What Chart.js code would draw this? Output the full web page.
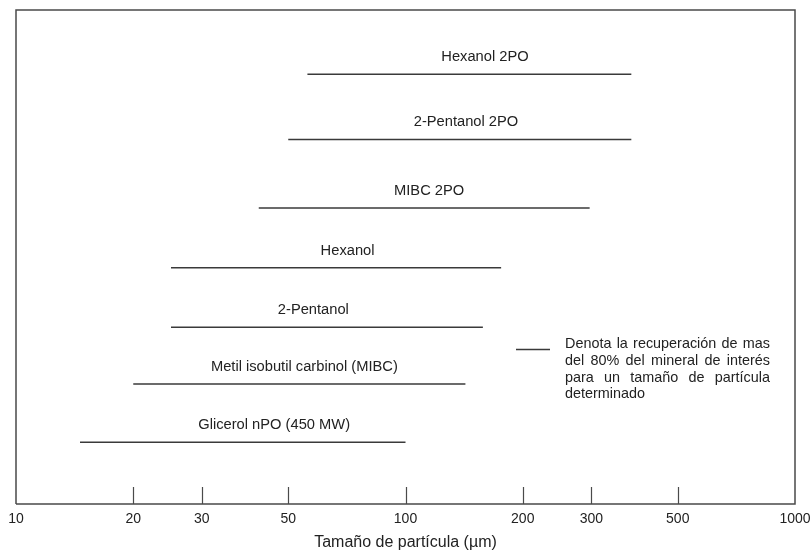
<!DOCTYPE html>
<html>
<head>
<meta charset="utf-8">
<script src="https://cdn.jsdelivr.net/npm/chart.js@4.4.0/dist/chart.umd.min.js"></script>
<style>
html, body { margin: 0; padding: 0; background: #fff; }
</style>
</head>
<body>
<canvas id="rangeChart" width="811" height="551"></canvas>
<script>
// reagent names and the particle size range (µm) each one recovers >80%
var labels = ['Hexanol 2PO', '2-Pentanol 2PO', 'MIBC 2PO', 'Hexanol', '2-Pentanol',
	'Metil isobutil carbinol (MIBC)', 'Glicerol nPO (450 MW)'];
var sizeMin = [56, 50, 42, 25, 25, 20, 14.6];
var sizeMax = [380, 380, 297, 176, 158, 142.5, 100];
// vertical row of each bar (hidden y axis, 0..10)
var levels = [8.70, 7.38, 5.99, 4.78, 3.58, 2.43, 1.25];
// where each name sits along the x axis (µm)
var labelAt = [160, 143, 115, 71, 58, 55, 46];
var tickValues = [10, 20, 30, 50, 100, 200, 300, 500, 1000];
var xTitle = 'Tamaño de partícula (µm)';
var noteLines = ['Denota la recuperación de mas', 'del 80% del mineral de interés',
	'para un tamaño de partícula', 'determinado'];

var FONT = '"Liberation Sans", Arial, Helvetica, sans-serif';

var datasets = labels.map(function(name, i) {
	return {
		label : name,
		data : [ { x : sizeMin[i], y : levels[i] }, { x : sizeMax[i], y : levels[i] } ],
		borderColor : '#3a3a3a',
		borderWidth : 1.5,
		pointRadius : 0,
		fill : false
	};
});

var decorPlugin = {
	id : 'decor',
	afterDraw : function(chart) {
		var ctx = chart.ctx;
		var area = chart.chartArea;
		var xs = chart.scales.x;
		var ys = chart.scales.y;
		ctx.save();

		// frame
		ctx.strokeStyle = '#4a4a4a';
		ctx.lineWidth = 1.5;
		ctx.beginPath();
		ctx.moveTo(area.left, area.bottom);
		ctx.lineTo(area.left, area.top);
		ctx.lineTo(area.right, area.top);
		ctx.lineTo(area.right, area.bottom);
		ctx.lineTo(area.left, area.bottom);
		ctx.stroke();

		// inward tick marks
		ctx.lineWidth = 1.2;
		ctx.beginPath();
		tickValues.forEach(function(v) {
			if (v == 10 || v == 1000) return;
			var px = Math.round(xs.getPixelForValue(v)) + 0.5;
			ctx.moveTo(px, area.bottom);
			ctx.lineTo(px, area.bottom - 17);
		});
		ctx.stroke();

		// names above the bars
		ctx.fillStyle = '#222';
		ctx.font = '14.7px ' + FONT;
		ctx.textAlign = 'center';
		ctx.textBaseline = 'middle';
		labels.forEach(function(name, i) {
			ctx.fillText(name, xs.getPixelForValue(labelAt[i]), ys.getPixelForValue(levels[i]) - 17);
		});

		// note / key
		ctx.strokeStyle = '#3a3a3a';
		ctx.lineWidth = 1.5;
		ctx.beginPath();
		ctx.moveTo(516, 349.5);
		ctx.lineTo(550, 349.5);
		ctx.stroke();

		ctx.font = '14.4px ' + FONT;
		ctx.textAlign = 'left';
		var left = 565, width = 205, lh = 16.8, top = 344;
		noteLines.forEach(function(line, i) {
			var y = top + i * lh;
			var words = line.split(' ');
			if (i == noteLines.length - 1 || words.length < 2) {
				ctx.fillText(line, left, y);
				return;
			}
			var total = 0;
			words.forEach(function(w) { total += ctx.measureText(w).width; });
			var gap = (width - total) / (words.length - 1);
			var x = left;
			words.forEach(function(w) {
				ctx.fillText(w, x, y);
				x += ctx.measureText(w).width + gap;
			});
		});
		ctx.restore();
	}
};

var ctx = document.getElementById('rangeChart');
var rangeChart = new Chart(ctx, {
	type : 'line',
	data : { datasets : datasets },
	options : {
		responsive : false,
		animation : false,
		layout : { padding : { left : 16, right : 16, top : 10, bottom : 0 } },
		plugins : {
			legend : { display : false },
			tooltip : { enabled : false }
		},
		scales : {
			x : {
				type : 'logarithmic',
				min : 10,
				max : 1000,
				position : 'bottom',
				afterBuildTicks : function(scale) {
					scale.ticks = tickValues.map(function(v) { return { value : v }; });
				},
				afterFit : function(scale) {
					// end labels may hang over the frame, as in the original
					scale.paddingLeft = 0;
					scale.paddingRight = 0;
				},
				ticks : {
					autoSkip : false,
					maxRotation : 0,
					padding : 8.5,
					color : '#222',
					font : { family : FONT, size : 14, lineHeight : 1 },
					callback : function(v) { return String(v); }
				},
				grid : { display : false, drawTicks : false },
				border : { display : false },
				title : {
					display : true,
					text : xTitle,
					color : '#222',
					font : { family : FONT, size : 16, lineHeight : 1 },
					padding : { top : 0, bottom : 0 }
				}
			},
			y : { type : 'linear', min : 0, max : 10, display : false }
		}
	},
	plugins : [ decorPlugin ]
});
</script>
</body>
</html>
